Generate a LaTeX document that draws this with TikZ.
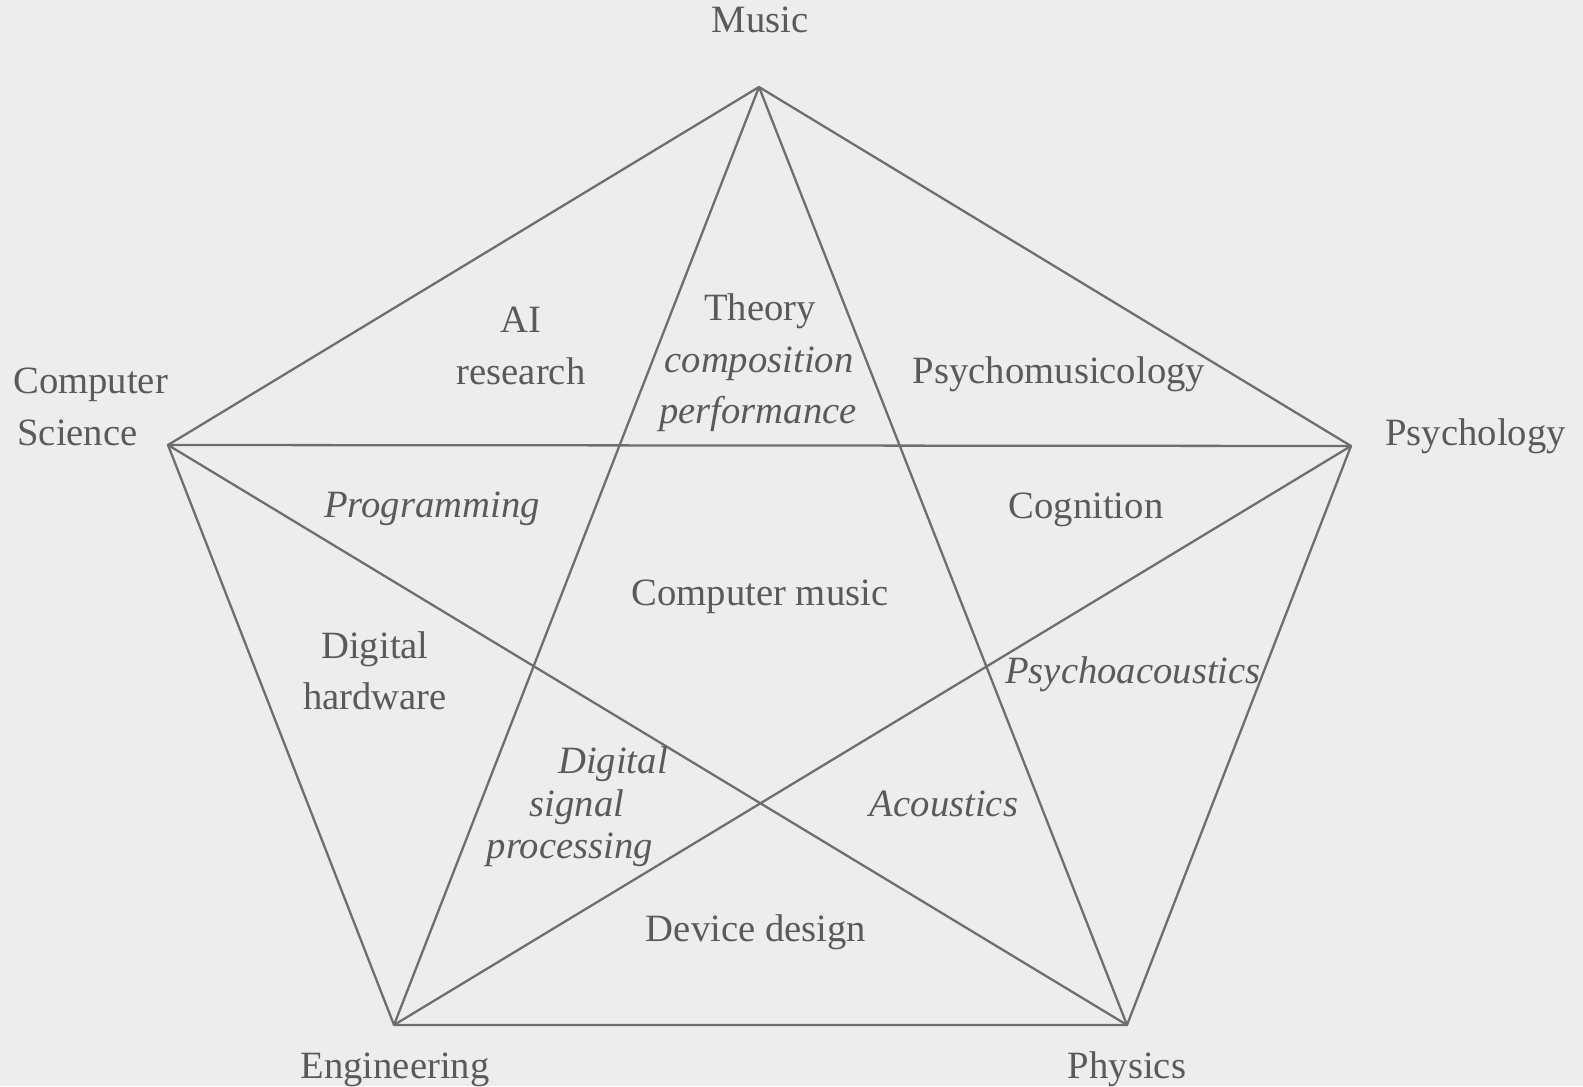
\documentclass[tikz,border=0pt]{standalone}
\usepackage{fontspec}
\setmainfont{Liberation Serif}
\definecolor{paper}{HTML}{EDEDED}
\definecolor{ink}{HTML}{5A5A5A}
\definecolor{wire}{HTML}{6E6E6E}
\tikzset{
  field/.style={anchor=base, inner sep=0pt, text=ink, font=\fontsize{22}{26}\selectfont},
  topic/.style={field, font=\fontsize{22}{26}\selectfont\itshape},
  link/.style={draw=wire, line width=1.3pt, line join=round}
}
\begin{document}
\begin{tikzpicture}[x=0.02cm, y=-0.02cm]
\fill[paper] (0,0) rectangle (1583,1086);
\coordinate (Mu) at (759,87);
\coordinate (CS) at (168,445);
\coordinate (Ps) at (1351,446);
\coordinate (En) at (394,1025);
\coordinate (Ph) at (1127,1025);

% outer pentagon
\draw[link] (Mu) -- (Ps) -- (Ph) -- (En) -- (CS) -- cycle;
% inner star
\draw[link] (Mu) -- (En) -- (Ps) -- (CS) -- (Ph) -- cycle;

\node[field] (music) at (760,33) {Music};
\node[field, anchor=base west] (comp) at (13,393) {Computer};
\node[field, anchor=base west] (sci) at (17,445) {Science};
\node[field, anchor=base west] (psych) at (1385,445) {Psychology};
\node[field] (engin) at (395,1078) {Engineering};
\node[field] (phys) at (1127,1078) {Physics};

\node[field] (ai) at (521,332) {AI};
\node[field] (research) at (521,384) {research};
\node[field] (theory) at (760,320) {Theory};
\node[topic] (compos) at (759,372) {composition};
\node[topic] (perform) at (758,423) {performance};
\node[field] (psymus) at (1059,383) {Psychomusicology};
\node[topic] (program) at (432,517) {Programming};
\node[field] (cogn) at (1086,518) {Cognition};
\node[field] (cmusic) at (760,605) {Computer music};
\node[field] (dig) at (375,658) {Digital};
\node[field] (hardw) at (375,709) {hardware};
\node[topic] (psyac) at (1133,683) {Psychoacoustics};
\node[topic] (dsp1) at (613,773) {Digital};
\node[topic] (dsp2) at (577,816) {signal};
\node[topic] (dsp3) at (570,858) {processing};
\node[topic] (acoust) at (944,816) {Acoustics};
\node[field] (device) at (756,941) {Device design};
\end{tikzpicture}
\end{document}
